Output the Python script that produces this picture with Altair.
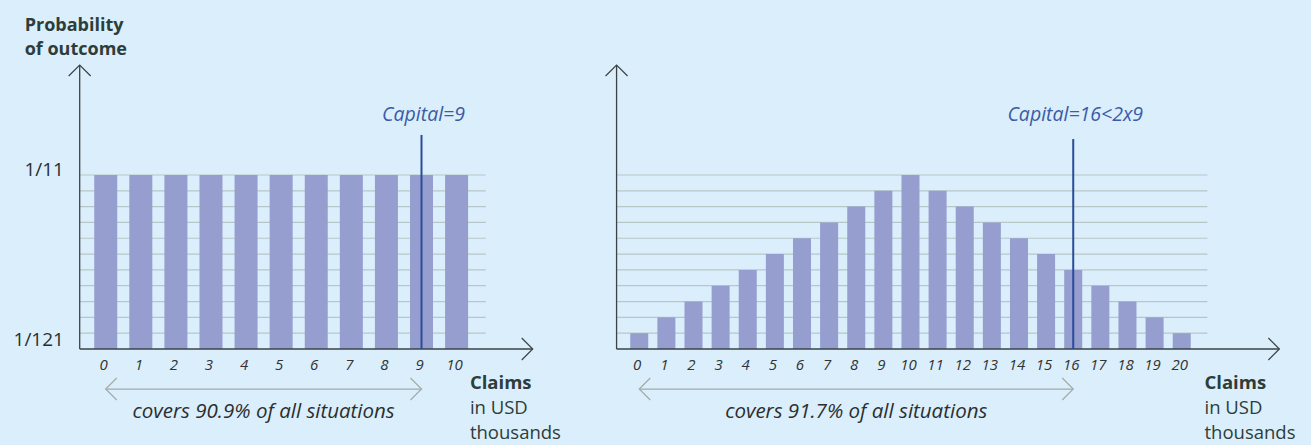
import altair as alt
import pandas as pd

# ---------------- data ----------------
claims_a = [0, 1, 2, 3, 4, 5, 6, 7, 8, 9, 10]
outcomes_a = [11, 11, 11, 11, 11, 11, 11, 11, 11, 11, 11]          # in 1/121
claims_b = [0, 1, 2, 3, 4, 5, 6, 7, 8, 9, 10, 11, 12, 13, 14, 15, 16, 17, 18, 19, 20]
outcomes_b = [1, 2, 3, 4, 5, 6, 7, 8, 9, 10, 11, 10, 9, 8, 7, 6, 5, 4, 3, 2, 1]  # in 1/121
grid_levels = [1, 2, 3, 4, 5, 6, 7, 8, 9, 10, 11]
capital_a = 9
capital_b = 16
capital_label_a = "Capital=9"
capital_label_b = "Capital=16<2x9"
cover_label_a = "covers 90.9% of all situations"
cover_label_b = "covers 91.7% of all situations"
y_label_top = "1/11"
y_label_bottom = "1/121"
title_lines = ["Probability", "of outcome"]
xtitle_lines = ["Claims", "in USD", "thousands"]

# ---------------- style ----------------
BG = "#dbeefb"
BAR = "#959ecf"
GRID = "#b7c6c6"
AXIS = "#3d4345"
CAP = "#2b4b9b"
CAP_TXT = "#3a5ba8"
TXT = "#2c3d3a"
GRAY = "#a3aaaa"
FONT = "Open Sans"

H = 445
YDOM = [-6.068, 22.06]
ys = alt.Scale(domain=YDOM, nice=False, zero=False)

up_head = "M-1,1L0,0L1,1"
right_head = "M-1,-1L0,0L-1,1"
left_head = "M1,-1L0,0L1,1"


def one(label=""):
    """A single-row chart so that constant marks are drawn once."""
    return alt.Chart(pd.DataFrame({"label": [label]}))


def panel(claims, outcomes, capital, cap_label, cover_label, xdom, width,
          bar_size, axis_x, axis_end, grid_end, cap_top, claims_x, with_title):
    xs = alt.Scale(domain=xdom, nice=False, zero=False)
    bars_df = pd.DataFrame({"claim": claims, "outcomes": outcomes})
    grid_df = pd.DataFrame({"level": grid_levels})
    base = alt.Chart(bars_df)

    def X(d):
        return alt.X(datum=d, scale=xs, axis=None)

    def Y(d):
        return alt.Y(datum=d, scale=ys, axis=None)

    layers = []
    # gridlines
    layers.append(
        alt.Chart(grid_df).mark_rule(color=GRID, strokeWidth=1.2).encode(
            x=X(axis_x), x2=alt.X2(datum=grid_end),
            y=alt.Y("level:Q", scale=ys, axis=None),
        )
    )
    # bars
    layers.append(
        base.mark_bar(color=BAR, size=bar_size).encode(
            x=alt.X("claim:Q", scale=xs, axis=None),
            y=alt.Y("outcomes:Q", scale=ys, axis=None),
            y2=alt.Y2(datum=0),
        )
    )
    # axes lines
    layers.append(one().mark_rule(color=AXIS, strokeWidth=1.3).encode(
        x=X(axis_x), y=Y(0), y2=alt.Y2(datum=17.95)))
    layers.append(one().mark_rule(color=AXIS, strokeWidth=1.3).encode(
        x=X(axis_x), x2=alt.X2(datum=axis_end), y=Y(0)))
    layers.append(one().mark_point(shape=up_head, size=484, filled=False, color=AXIS,
                                   strokeWidth=1.2, opacity=1).encode(
        x=X(axis_x), y=Y(17.95)))
    layers.append(one().mark_point(shape=right_head, size=484, filled=False, color=AXIS,
                                   strokeWidth=1.2, opacity=1).encode(
        x=X(axis_end), y=Y(0)))
    # capital line + label
    layers.append(one().mark_rule(color=CAP, strokeWidth=2).encode(
        x=X(capital), y=Y(0), y2=alt.Y2(datum=cap_top)))
    layers.append(one(cap_label).mark_text(font=FONT, fontSize=19.5, fontStyle="italic",
                                           fontWeight="normal", color=CAP_TXT,
                                           align="center", baseline="middle", dx=2).encode(
        x=X(capital), y=Y(14.79), text="label:N"))
    # tick labels
    layers.append(
        base.mark_text(font=FONT, fontSize=15, fontStyle="italic", fontWeight="normal",
                       color="#333333", align="center", baseline="middle", dx=-2).encode(
            x=alt.X("claim:Q", scale=xs, axis=None),
            y=Y(-1.01),
            text=alt.Text("claim:Q"),
        )
    )
    # coverage double arrow
    layers.append(one().mark_rule(color=GRAY, strokeWidth=1.2).encode(
        x=X(claims[0]), x2=alt.X2(datum=capital), y=Y(-2.53)))
    layers.append(one().mark_point(shape=left_head, size=484, filled=False, color=GRAY,
                                   strokeWidth=1.2, opacity=1).encode(
        x=X(claims[0]), y=Y(-2.53)))
    layers.append(one().mark_point(shape=right_head, size=484, filled=False, color=GRAY,
                                   strokeWidth=1.2, opacity=1).encode(
        x=X(capital), y=Y(-2.53)))
    layers.append(one(cover_label).mark_text(font=FONT, fontSize=20.5, fontStyle="italic",
                                             fontWeight="normal", color="#2a2f30",
                                             align="center", baseline="middle").encode(
        x=X((claims[0] + capital) / 2), y=Y(-3.98), text="label:N"))
    # x-axis title (3 lines)
    for line, k, weight in zip(xtitle_lines, [-2.12, -3.73, -5.34], ["bold", "normal", "normal"]):
        layers.append(one(line).mark_text(font=FONT, fontSize=18.5, fontWeight=weight,
                                          color=TXT, align="left", baseline="middle").encode(
            x=X(claims_x), y=Y(k), text="label:N"))
    if with_title:
        for line, k in zip(title_lines, [20.1, 18.58]):
            layers.append(one(line).mark_text(font=FONT, fontSize=18, fontWeight="bold",
                                              color=TXT, align="left",
                                              baseline="alphabetic").encode(
                x=X(-2.31), y=Y(k), text="label:N"))
        layers.append(one(y_label_top).mark_text(font=FONT, fontSize=19, fontWeight="normal",
                                                 color="#2a2f30", align="right",
                                                 baseline="middle").encode(
            x=X(-1.19), y=Y(11.31), text="label:N"))
        layers.append(one(y_label_bottom).mark_text(font=FONT, fontSize=19, fontWeight="normal",
                                                    color="#2a2f30", align="right",
                                                    baseline="middle").encode(
            x=X(-1.19), y=Y(0.57), text="label:N"))
    return alt.layer(*layers).properties(width=width, height=H)


left = panel(claims_a, outcomes_a, capital_a, capital_label_a, cover_label_a,
             xdom=[-2.871, 13.375], width=580, bar_size=23,
             axis_x=-0.742, axis_end=12.17, grid_end=10.83, cap_top=13.53,
             claims_x=10.38, with_title=True)
right = panel(claims_b, outcomes_b, capital_b, capital_label_b, cover_label_b,
              xdom=[-2.0, 24.582], width=731, bar_size=18,
              axis_x=-0.836, axis_end=23.6, grid_end=20.945, cap_top=13.27,
              claims_x=20.84, with_title=False)

chart = alt.hconcat(left, right, spacing=0, bounds="flush").properties(
    padding=0, background=BG
).configure_view(stroke=None)

chart.save("out.html", embed_options={"renderer": "svg", "actions": False})
